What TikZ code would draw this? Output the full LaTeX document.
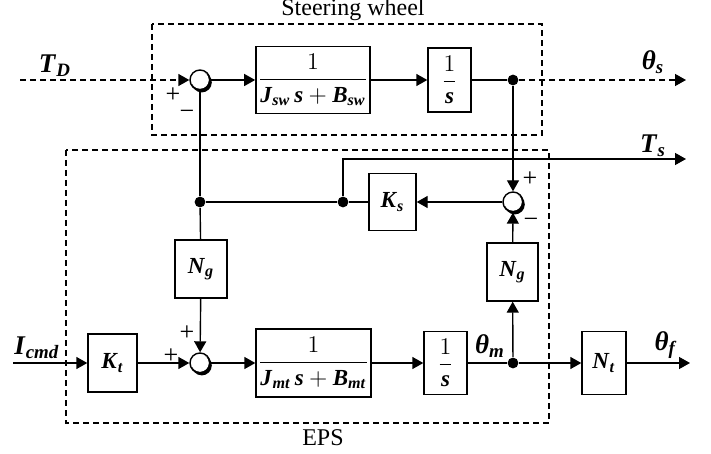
\documentclass[tikz,border=0pt]{standalone}
\usepackage{amsmath}
\usepackage{fontspec}
\setmainfont{Liberation Serif}
\usepackage{tikz}
\usetikzlibrary{arrows.meta, positioning, calc}

\newcommand{\bfit}[1]{\textbf{\textit{#1}}}

\tikzset{
  blk/.style={draw, line width=0.7pt, inner sep=1pt, font=\fontsize{11.5}{13}\selectfont},
  sumj/.style={circle, minimum size=10pt, inner sep=0pt},
  dot/.style={circle, fill, minimum size=5.4pt, inner sep=0pt},
  sig/.style={font=\fontsize{13}{15}\selectfont},
  lbl/.style={font=\fontsize{13.5}{15}\selectfont},
  arr/.style={-{Triangle[length=5.5pt,width=6pt]}},
  frame/.style={dashed, dash pattern=on 3pt off 2pt, line width=0.7pt}
}

\begin{document}
\begin{tikzpicture}[x=0.5pt, y=-0.5pt, line width=0.7pt]
\useasboundingbox (0,0) rectangle (711,454);

% dashed frames
\draw[frame] (152,24) rectangle (542,135);
\draw[frame] (66,150) rectangle (549,423);
\node[font=\fontsize{12}{14}\selectfont] (swt) at (353,10) {Steering wheel};
\node[font=\fontsize{12}{14}\selectfont] (epst) at (323,438) {EPS};

% top row
\coordinate (td) at (20,80);
\node[sumj] (s1) at (200,80) {};
\node[blk, minimum width=55pt, minimum height=33.5pt] (bsw) at (313,80)
  {$\dfrac{1}{\bfit{J}_{\bfit{sw}}\,\bfit{s}+\bfit{B}_{\bfit{sw}}}$};
\node[blk, minimum width=21.5pt, minimum height=32pt] (is1) at (449.5,80)
  {$\dfrac{1}{\bfit{s}}$};
\node[dot] (d1) at (513,80) {};
\coordinate (ths) at (686,80);

% middle row
\node[sumj] (s2) at (513,202) {};
\node[blk, minimum width=23.5pt, minimum height=28.5pt] (ks) at (392.5,202)
  {$\bfit{K}_{\bfit{s}}$};
\node[dot] (d2) at (343,202) {};
\node[dot] (d3) at (200,202) {};
\coordinate (ts) at (686,159);
\node[blk, minimum width=26pt, minimum height=29pt] (ngl) at (201,269)
  {$\bfit{N}_{\bfit{g}}$};
\node[blk, minimum width=25.5pt, minimum height=29pt] (ngr) at (512.5,272)
  {$\bfit{N}_{\bfit{g}}$};

% bottom row
\coordinate (ic) at (13,363);
\node[blk, minimum width=24.5pt, minimum height=29pt] (kt) at (112.5,363)
  {$\bfit{K}_{\bfit{t}}$};
\node[sumj] (s3) at (200,363) {};
\node[blk, minimum width=50.5pt, minimum height=34pt] (bmt) at (313.5,363)
  {$\dfrac{1}{\bfit{J}_{\bfit{mt}}\,\bfit{s}+\bfit{B}_{\bfit{mt}}}$};
\node[blk, minimum width=21.5pt, minimum height=31.5pt] (is2) at (445.5,363)
  {$\dfrac{1}{\bfit{s}}$};
\node[dot] (d4) at (513,363) {};
\node[blk, minimum width=22pt, minimum height=31.5pt] (nt) at (604,363)
  {$\bfit{N}_{\bfit{t}}$};
\coordinate (thf) at (690,363);

% summing junctions
\foreach \n in {s1,s2,s3} {
  \fill ($(\n)+(1.8,2.4)$) circle[radius=5pt];
  \fill[white] (\n) circle[radius=4.4pt];
  \draw (\n) circle[radius=5pt];
}

% signal labels
\node[lbl] (tdl) at (55,66) {$\bfit{T}_{\bfit{D}}$};
\node[lbl] (thsl) at (653,62) {$\bfit{θ}_{\bfit{s}}$};
\node[lbl] (tsl) at (653,146) {$\bfit{T}_{\bfit{s}}$};
\node[lbl] (icl) at (37,348) {$\bfit{I}_{\bfit{cmd}}$};
\node[lbl] (thml) at (490,346) {$\bfit{θ}_{\bfit{m}}$};
\node[lbl] (thfl) at (666,345) {$\bfit{θ}_{\bfit{f}}$};

% signs
\node[sig] (p1) at (173,95) {+};
\node[sig] (m1) at (187,115) {−};
\node[sig] (p2) at (530,179) {+};
\node[sig] (m2) at (531,223) {−};
\node[sig] (p3) at (171,356) {+};
\node[sig] (p4) at (187,333) {+};

% connectors
\draw[arr, dashed, dash pattern=on 3pt off 2pt] (td) -- (s1);
\draw[arr] (s1) -- (bsw);
\draw[arr] (bsw) -- (is1);
\draw (is1) -- (d1);
\draw[arr, dashed, dash pattern=on 3pt off 2pt] (d1) -- (ths);
\draw[arr] (d1) -- (s2);
\draw[arr] (s2) -- (ks);
\draw (ks) -- (d2) -- (d3);
\draw (d3) -- (s1);
\draw[arr] (d2) |- (ts);
\draw (d3) -- (ngl);
\draw[arr] (ngl) -- (s3);
\draw[arr] (ic) -- (kt);
\draw[arr] (kt) -- (s3);
\draw[arr] (s3) -- (bmt);
\draw[arr] (bmt) -- (is2);
\draw (is2) -- (d4);
\draw[arr] (d4) -- (nt);
\draw[arr] (nt) -- (thf);
\draw[arr] (d4) -- (ngr);
\draw[arr] (ngr) -- (s2);
\end{tikzpicture}
\end{document}
